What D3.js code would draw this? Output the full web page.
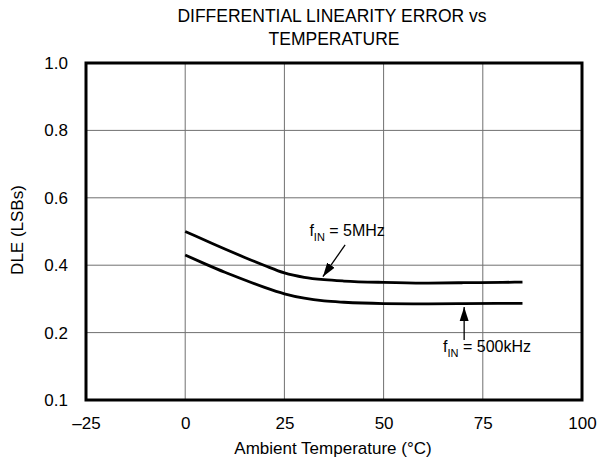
<!DOCTYPE html>
<html>
<head>
<meta charset="utf-8">
<script src="https://cdn.jsdelivr.net/npm/d3@7"></script>
<style>
  body { margin: 0; background: #fff; }
  text { font-family: "Liberation Sans", Arial, sans-serif; fill: #000; }
</style>
</head>
<body>
<script>
// data
let temps = [0, 5, 10, 15, 20, 25, 30, 35, 40, 50, 60, 70, 80, 85];
let dle5MHz = [0.50, 0.474, 0.448, 0.423, 0.399, 0.377, 0.364, 0.357, 0.353, 0.349, 0.347, 0.348, 0.349, 0.350];
let dle500kHz = [0.43, 0.404, 0.379, 0.356, 0.334, 0.315, 0.302, 0.294, 0.290, 0.286, 0.285, 0.286, 0.287, 0.287];

let xTicks = [-25, 0, 25, 50, 75, 100];
let yTicks = [0.1, 0.2, 0.4, 0.6, 0.8, 1.0];
let xTickLabels = ["\u201325", "0", "25", "50", "75", "100"];
let yTickLabels = ["0.1", "0.2", "0.4", "0.6", "0.8", "1.0"];

let margin = { top: 63, left: 86, bottom: 63, right: 18 };
let width = 600 - margin.left - margin.right;
let height = 463 - margin.top - margin.bottom;
let fontFamily = '"Liberation Sans", Arial, sans-serif';

let svg = d3.select('body').append('svg')
  .attr('width', 600).attr('height', 463);

let defs = svg.append('defs');
defs.append('marker')
  .attr('id', 'arrow')
  .attr('viewBox', '0 0 10 10')
  .attr('refX', 10).attr('refY', 5)
  .attr('markerWidth', 14).attr('markerHeight', 14)
  .attr('markerUnits', 'userSpaceOnUse')
  .attr('orient', 'auto')
  .append('path').attr('d', 'M0,1.8 L10,5 L0,8.2 Z').attr('fill', '#000');

let g = svg.append('g').attr('transform', 'translate(' + margin.left + ',' + margin.top + ')');

let x = d3.scaleLinear().domain([-25, 100]).range([0, width]);
// the bottom step of the axis (0.1 to 0.2) is drawn as tall as the others
let y = d3.scaleLinear().domain([0.1, 0.2, 1.0]).range([height, height * 4 / 5, 0]);

// grid
g.append('g').selectAll('line').data(xTicks.slice(1, -1)).enter().append('line')
  .attr('x1', d => x(d)).attr('x2', d => x(d))
  .attr('y1', 0).attr('y2', height)
  .attr('stroke', '#707070').attr('stroke-width', 1);
g.append('g').selectAll('line').data(yTicks.slice(1, -1)).enter().append('line')
  .attr('y1', d => y(d)).attr('y2', d => y(d))
  .attr('x1', 0).attr('x2', width)
  .attr('stroke', '#707070').attr('stroke-width', 1);

// axes (labels only)
let xAxis = d3.axisBottom(x).tickValues(xTicks).tickSize(0).tickPadding(17)
  .tickFormat((d, i) => xTickLabels[i]);
let yAxis = d3.axisLeft(y).tickValues(yTicks).tickSize(0).tickPadding(18)
  .tickFormat((d, i) => yTickLabels[i]);

g.append('g').attr('transform', 'translate(0,' + height + ')').call(xAxis)
  .call(a => a.select('.domain').remove())
  .selectAll('text').style('font-size', '17px').style('font-family', fontFamily).attr('fill', '#000');
g.append('g').call(yAxis)
  .call(a => a.select('.domain').remove())
  .selectAll('text').style('font-size', '17px').style('font-family', fontFamily).attr('fill', '#000');

// curves
let line = d3.line().x(d => x(d[0])).y(d => y(d[1])).curve(d3.curveMonotoneX);
[dle5MHz, dle500kHz].forEach(function(series) {
  g.append('path')
    .datum(temps.map((t, i) => [t, series[i]]))
    .attr('d', line)
    .attr('fill', 'none')
    .attr('stroke', '#000')
    .attr('stroke-width', 2.8);
});

// frame
g.append('rect').attr('width', width).attr('height', height)
  .attr('fill', 'none').attr('stroke', '#000').attr('stroke-width', 3);

// annotations
function label(px, py, main) {
  let t = g.append('text').attr('x', px).attr('y', py).style('font-size', '16px');
  t.append('tspan').text('f');
  t.append('tspan').attr('dy', 5).style('font-size', '11px').text('IN');
  t.append('tspan').attr('dy', -5).text(' = ' + main);
}
label(x(31.3), y(0.487), '5MHz');
g.append('line')
  .attr('x1', x(40.3)).attr('y1', y(0.46))
  .attr('x2', x(34.7)).attr('y2', y(0.366))
  .attr('stroke', '#000').attr('stroke-width', 1.3)
  .attr('marker-end', 'url(#arrow)');

label(x(65), y(0.171), '500kHz');
g.append('line')
  .attr('x1', x(70.3)).attr('y1', y(0.189))
  .attr('x2', x(70.3)).attr('y2', y(0.276))
  .attr('stroke', '#000').attr('stroke-width', 1.3)
  .attr('marker-end', 'url(#arrow)');

// titles
svg.append('text').attr('x', 332).attr('y', 22).attr('text-anchor', 'middle')
  .style('font-size', '17.5px').text('DIFFERENTIAL LINEARITY ERROR vs');
svg.append('text').attr('x', 334).attr('y', 45).attr('text-anchor', 'middle')
  .style('font-size', '17.5px').text('TEMPERATURE');
svg.append('text').attr('x', 333).attr('y', 454).attr('text-anchor', 'middle')
  .style('font-size', '17px').text('Ambient Temperature (\u00B0C)');
svg.append('text').attr('transform', 'translate(23,230) rotate(-90)').attr('text-anchor', 'middle')
  .style('font-size', '17px').text('DLE (LSBs)');
</script>
</body>
</html>
